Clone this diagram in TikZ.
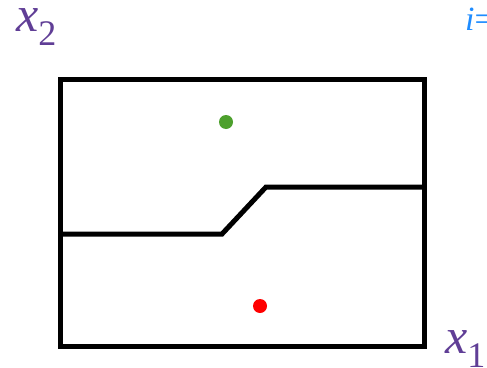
\documentclass[tikz,border=0pt]{standalone}
\usepackage{fontspec}
\setmainfont{Liberation Serif}
\begin{document}
\begin{tikzpicture}[x=1pt,y=-1pt,
  frame/.style={line width=5pt,line join=miter},
  bound/.style={line width=5pt},
  dot/.style={circle,inner sep=0pt,minimum size=14pt},
  axlabel/.style={text=axpurple,inner sep=0pt,font=\fontsize{50}{56}\selectfont}]
\definecolor{axpurple}{RGB}{96,62,150}
\definecolor{iblue}{RGB}{30,140,255}
\useasboundingbox (0,0) rectangle (487,367);
\clip (0,0) rectangle (487,367);
\draw[frame] (60.5,79.5) rectangle (424.5,346);
\coordinate (b0) at (60.5,234);
\coordinate (b1) at (222,234);
\coordinate (b2) at (266,187);
\coordinate (b3) at (424.5,187);
\draw[bound] (b0) -- (b1) -- (b2) -- (b3);
\node[dot,fill={rgb,255:red,77;green,160;blue,45}] (g) at (226,122) {};
\node[dot,fill=red] (r) at (260,306) {};
\node[axlabel,anchor=base west] (x2) at (16,31) {\textit{x}\raisebox{-0.28em}{\fontsize{36}{40}\selectfont 2}};
\node[axlabel,anchor=base west] (x1) at (445,353) {\textit{x}\raisebox{-0.28em}{\fontsize{36}{40}\selectfont 1}};
\node[inner sep=0pt,anchor=base west,text=iblue,font=\fontsize{34}{40}\selectfont] (i) at (465,30) {\textit{i}=};
\end{tikzpicture}
\end{document}
